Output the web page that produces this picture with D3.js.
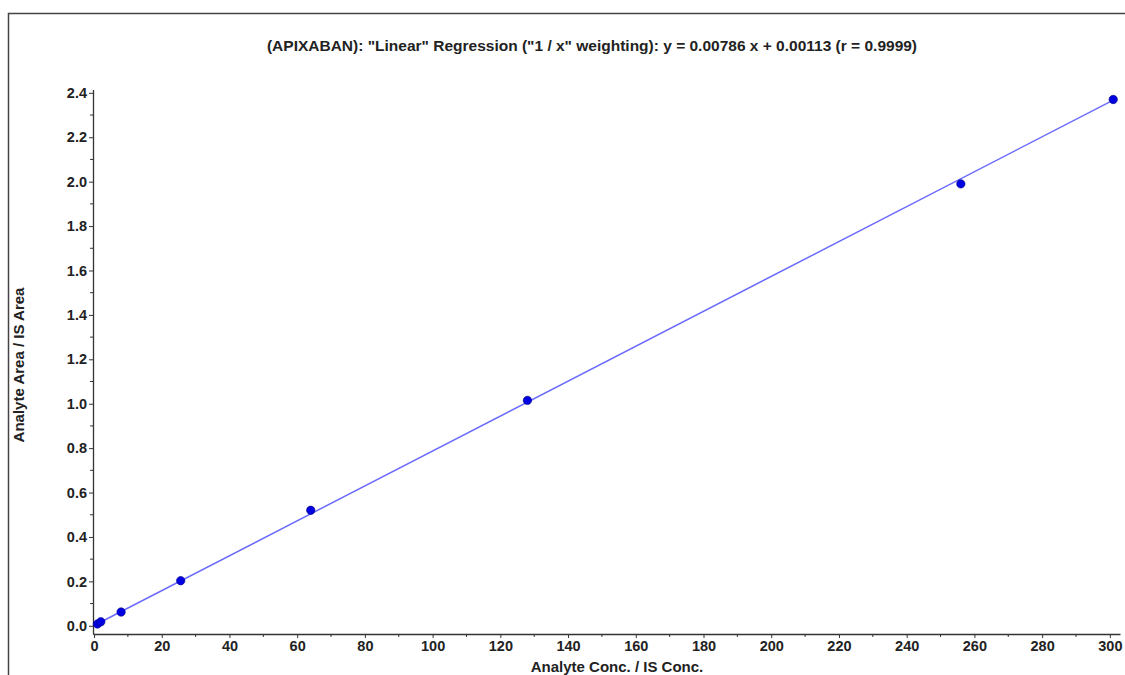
<!DOCTYPE html>
<html>
<head>
<meta charset="utf-8">
<script src="https://cdn.jsdelivr.net/npm/d3@7"></script>
<style>
  html, body { margin: 0; padding: 0; background: #fff; }
  svg { display: block; font-family: "Liberation Sans", Arial, sans-serif; }
</style>
</head>
<body>
<svg id="chart" width="1125" height="675"></svg>
<script>
// Calibration standards: concentration ratio vs. area ratio
const concRatio = [1, 2, 8, 25.6, 64, 128, 256, 301];
const areaRatio = [0.008, 0.018, 0.062, 0.203, 0.52, 1.015, 1.99, 2.37];

// Fitted regression (1/x weighting)
const slope = 0.00786;
const intercept = 0.00113;
const rValue = "0.9999";
const compound = "APIXABAN";

const xTicks = [0, 20, 40, 60, 80, 100, 120, 140, 160, 180, 200, 220, 240, 260, 280, 300];
const yTicks = [0.0, 0.2, 0.4, 0.6, 0.8, 1.0, 1.2, 1.4, 1.6, 1.8, 2.0, 2.2, 2.4];

const svg = d3.select("#chart");

// Panel frame (top and left edges)
svg.append("path")
  .attr("d", "M8.5,675 V13.5 H1125")
  .attr("fill", "none")
  .attr("stroke", "#444")
  .attr("stroke-width", 1.5);

const x = d3.scaleLinear().domain([-0.3, 303]).range([93, 1120]);
const y = d3.scaleLinear().domain([-0.037, 2.415]).range([634, 89.5]);

// Axes
const xAxis = d3.axisBottom(x).tickValues(xTicks).tickFormat(d3.format("d")).tickSize(4).tickSizeOuter(0).tickPadding(3);
const yAxis = d3.axisLeft(y).tickValues(yTicks).tickFormat(d3.format(".1f")).tickSize(4).tickSizeOuter(0).tickPadding(2);

const gx = svg.append("g").attr("transform", `translate(0,${y(-0.037)})`).call(xAxis);
const gy = svg.append("g").attr("transform", `translate(${x(-0.3)},0)`).call(yAxis);

// Minor ticks
const xMinor = d3.range(10, 301, 20);
const yMinor = d3.range(0.1, 2.35, 0.2);
gx.selectAll(".minor").data(xMinor).enter().append("line")
  .attr("class", "minor")
  .attr("x1", d => x(d)).attr("x2", d => x(d))
  .attr("y1", 0).attr("y2", 3).attr("stroke", "#333");
gy.selectAll(".minor").data(yMinor).enter().append("line")
  .attr("class", "minor")
  .attr("y1", d => y(d)).attr("y2", d => y(d))
  .attr("x1", 0).attr("x2", -3).attr("stroke", "#333");

[gx, gy].forEach(g => {
  g.select(".domain").attr("stroke", "#333").attr("stroke-width", 1.3);
  g.selectAll(".tick line").attr("stroke", "#333");
  g.selectAll(".tick text")
    .attr("font-size", 14.5)
    .attr("font-weight", "bold")
    .attr("fill", "#222")
    .attr("font-family", "Liberation Sans, Arial, sans-serif");
});

// Regression line
const xFit = [0, d3.max(concRatio)];
svg.append("line")
  .attr("x1", x(xFit[0])).attr("y1", y(slope * xFit[0] + intercept))
  .attr("x2", x(xFit[1])).attr("y2", y(slope * xFit[1] + intercept))
  .attr("stroke", "#6b6bff")
  .attr("stroke-width", 1.5);

// Standards
svg.append("g").selectAll("circle")
  .data(concRatio.map((c, i) => [c, areaRatio[i]]))
  .enter().append("circle")
  .attr("cx", d => x(d[0]))
  .attr("cy", d => y(d[1]))
  .attr("r", 4.2)
  .attr("fill", "#0000e0")
  .attr("stroke", "#000080")
  .attr("stroke-width", 0.6);

// Title
svg.append("text")
  .attr("x", 592).attr("y", 51)
  .attr("text-anchor", "middle")
  .attr("font-size", 15.5)
  .attr("font-weight", "bold")
  .attr("fill", "#222")
  .text(`(${compound}): "Linear" Regression ("1 / x" weighting): y = ${slope} x + ${intercept.toFixed(5)} (r = ${rValue})`);

// Axis titles
svg.append("text")
  .attr("x", 617).attr("y", 672)
  .attr("text-anchor", "middle")
  .attr("font-size", 15)
  .attr("font-weight", "bold")
  .attr("fill", "#222")
  .text("Analyte Conc. / IS Conc.");

svg.append("text")
  .attr("transform", "translate(24,365) rotate(-90)")
  .attr("text-anchor", "middle")
  .attr("font-size", 15)
  .attr("font-weight", "bold")
  .attr("fill", "#222")
  .text("Analyte Area / IS Area");
</script>
</body>
</html>
